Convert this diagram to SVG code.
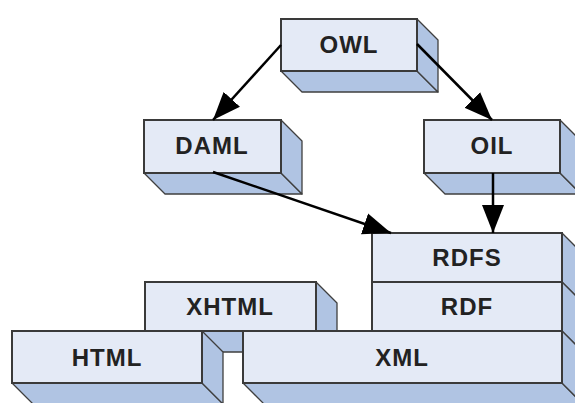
<svg xmlns="http://www.w3.org/2000/svg" width="575" height="403" viewBox="0 0 575 403">
<defs>
<style>
.f{fill:#e4eaf6;stroke:#3a3a3a;stroke-width:2}
.s{fill:#b0c4e3;stroke:#3f3f3f;stroke-width:1.3;stroke-linejoin:round}
.t{font-family:"Liberation Sans",Arial,sans-serif;font-weight:bold;font-size:24px;fill:#222;text-anchor:middle;letter-spacing:1px}
.c{stroke:#000;stroke-width:2.5;fill:none}
</style>
<marker id="ah" markerUnits="userSpaceOnUse" markerWidth="30" markerHeight="24" refX="28" refY="12" orient="auto" viewBox="0 0 30 24">
<path d="M0,1 L28,12 L0,23 Z" fill="#000"/>
</marker>
</defs>
<rect width="575" height="403" fill="#fff"/>
<g id="OWL">
<polygon class="s" points="281,71 417,71 438,92 302,92"/>
<polygon class="s" points="417,19 438,40 438,92 417,71"/>
<rect class="f" x="281" y="19" width="136" height="52"/>
<text class="t" x="349" y="53">OWL</text>
</g>
<g id="DAML">
<polygon class="s" points="144,173 281,173 302,194 165,194"/>
<polygon class="s" points="281,120 302,141 302,194 281,173"/>
<rect class="f" x="144" y="120" width="137" height="53"/>
<text class="t" x="212" y="154">DAML</text>
</g>
<g id="OIL">
<polygon class="s" points="424,173 560,173 581,194 445,194"/>
<polygon class="s" points="560,120 581,141 581,194 560,173"/>
<rect class="f" x="424" y="120" width="136" height="53"/>
<text class="t" x="492" y="154">OIL</text>
</g>
<g id="XHTML">
<polygon class="s" points="145,331 316,331 337,352 166,352"/>
<polygon class="s" points="316,282 337,303 337,352 316,331"/>
<rect class="f" x="145" y="282" width="171" height="49"/>
<text class="t" x="230" y="315">XHTML</text>
</g>
<g id="RDFS">
<polygon class="s" points="562,233 583,254 583,303 562,282"/>
<rect class="f" x="372" y="233" width="190" height="49"/>
<text class="t" x="467" y="266">RDFS</text>
</g>
<g id="RDF">
<polygon class="s" points="562,282 583,303 583,352 562,331"/>
<rect class="f" x="372" y="282" width="190" height="49"/>
<text class="t" x="467" y="315">RDF</text>
</g>
<g id="HTML">
<polygon class="s" points="12,383 202,383 223,404 33,404"/>
<polygon class="s" points="202,331 223,352 223,404 202,383"/>
<rect class="f" x="12" y="331" width="190" height="52"/>
<text class="t" x="107" y="366">HTML</text>
</g>
<g id="XML">
<polygon class="s" points="243,383 562,383 583,404 264,404"/>
<polygon class="s" points="562,331 583,352 583,404 562,383"/>
<rect class="f" x="243" y="331" width="319" height="52"/>
<text class="t" x="402" y="366">XML</text>
</g>
<g id="connectors">
<line class="c" x1="281" y1="45" x2="213" y2="120" marker-end="url(#ah)"/>
<line class="c" x1="417" y1="44" x2="492" y2="120" marker-end="url(#ah)"/>
<line class="c" x1="493" y1="173" x2="493" y2="233" marker-end="url(#ah)"/>
<line class="c" x1="213" y1="172" x2="391" y2="233" marker-end="url(#ah)"/>
</g>
</svg>
